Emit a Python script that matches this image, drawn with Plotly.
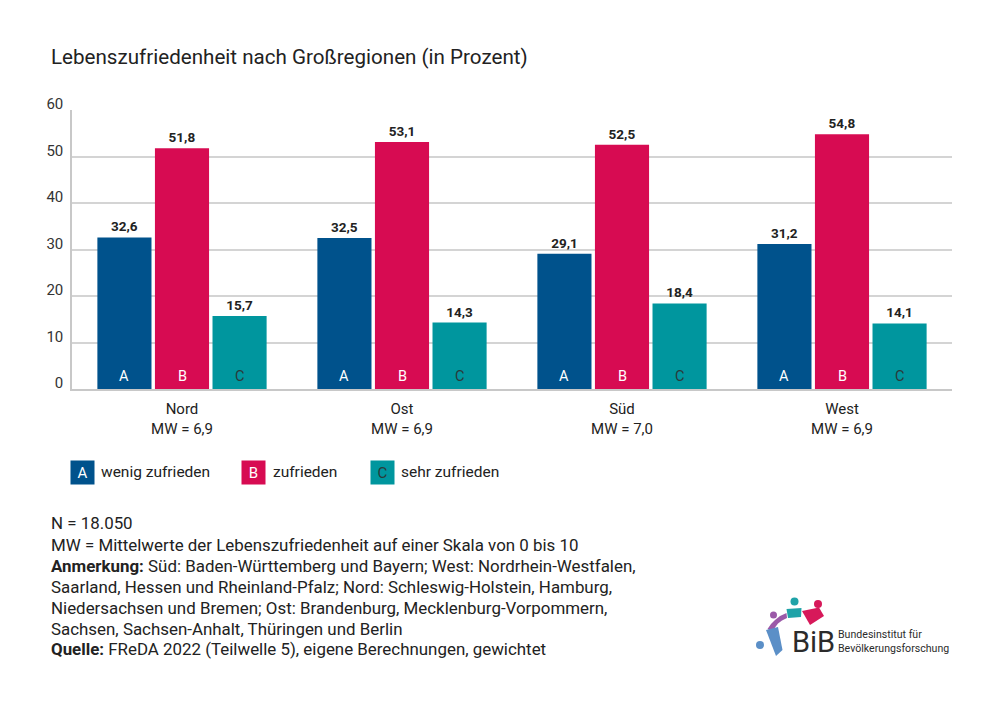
import plotly.graph_objects as go

regions = ["Nord", "Ost", "Süd", "West"]
mw = ["6,9", "6,9", "7,0", "6,9"]
series_names = ["wenig zufrieden", "zufrieden", "sehr zufrieden"]
series_letters = ["A", "B", "C"]
wenig = [32.6, 32.5, 29.1, 31.2]
zufrieden = [51.8, 53.1, 52.5, 54.8]
sehr = [15.7, 14.3, 18.4, 14.1]
yticks = [0, 10, 20, 30, 40, 50, 60]
notes = [
    "N = 18.050",
    "MW = Mittelwerte der Lebenszufriedenheit auf einer Skala von 0 bis 10",
    "<b>Anmerkung:</b> Süd: Baden-Württemberg und Bayern; West: Nordrhein-Westfalen,",
    "Saarland, Hessen und Rheinland-Pfalz; Nord: Schleswig-Holstein, Hamburg,",
    "Niedersachsen und Bremen; Ost: Brandenburg, Mecklenburg-Vorpommern,",
    "Sachsen, Sachsen-Anhalt, Thüringen und Berlin",
    "<b>Quelle:</b> FReDA 2022 (Teilwelle 5), eigene Berechnungen, gewichtet",
]

colors = ["#00528C", "#D70B52", "#00969E"]
letter_colors = ["white", "white", "#2a3a3a"]
FONT = "Roboto"
TXT = "#222222"

W, H = 1000, 703
L, R, T, B = 72, 48, 110, 314
PW = W - L - R
PH = H - T - B


def px(x):
    return (x - L) / PW


def py(y):
    return (H - B - y) / PH


cats = [f"{r}<br>MW = {m}" for r, m in zip(regions, mw)]
values = [wenig, zufrieden, sehr]

fig = go.Figure()
for name, vals, col in zip(series_names, values, colors):
    fig.add_trace(go.Bar(
        x=cats, y=vals, name=name, marker=dict(color=col, line=dict(width=0)),
        text=[f"<b>{v:.1f}</b>".replace(".", ",") for v in vals],
        textposition="outside", cliponaxis=False, constraintext="none",
        textfont=dict(family=FONT, size=13.5, color=TXT),
        hoverinfo="skip",
    ))

annotations = []
slot = PW / 4 * (1 - 0.215) / 3
for i, (letter, lc) in enumerate(zip(series_letters, letter_colors)):
    for c in cats:
        annotations.append(dict(
            x=c, y=0, xref="x", yref="y", text=letter, showarrow=False,
            xshift=(i - 1) * slot, yanchor="bottom", yshift=2,
            font=dict(family=FONT, size=14.5, color=lc),
        ))

# Legend
leg_sq = [82, 253, 382]
leg_tx = [99, 271, 399]
for letter, name, col, lc, sx, tx in zip(series_letters, series_names, colors, letter_colors, leg_sq, leg_tx):
    annotations.append(dict(
        x=px(sx), y=py(472), xref="paper", yref="paper", text=letter, showarrow=False,
        bgcolor=col, width=23, height=23, xanchor="center", yanchor="middle",
        font=dict(family=FONT, size=15, color=lc), borderpad=0,
    ))
    annotations.append(dict(
        x=px(tx), y=py(472), xref="paper", yref="paper", text=name, showarrow=False,
        xanchor="left", yanchor="middle", font=dict(family=FONT, size=15.5, color=TXT),
    ))

# Title
annotations.append(dict(
    x=px(49), y=py(57), xref="paper", yref="paper", showarrow=False,
    text="Lebenszufriedenheit nach Großregionen (in Prozent)",
    xanchor="left", yanchor="middle", font=dict(family=FONT, size=20.6, color=TXT),
))

# Footnotes
note_y = [523, 545, 566, 587, 608, 629, 649]
for line, ly in zip(notes, note_y):
    annotations.append(dict(
        x=px(49), y=py(ly), xref="paper", yref="paper", showarrow=False, text=line,
        xanchor="left", yanchor="middle", font=dict(family=FONT, size=16.9, color=TXT),
    ))

# Logo text
annotations.append(dict(
    x=px(790), y=py(642), xref="paper", yref="paper", showarrow=False, text="BiB",
    xanchor="left", yanchor="middle", font=dict(family=FONT, size=29, color="#2b2b2b"),
))
annotations.append(dict(
    x=px(836), y=py(641.5), xref="paper", yref="paper", showarrow=False,
    text="Bundesinstitut für<br>Bevölkerungsforschung", align="left",
    xanchor="left", yanchor="middle", font=dict(family=FONT, size=10.6, color="#2b2b2b"),
))

shapes = []


def circle(cx, cy, r, col):
    shapes.append(dict(type="circle", xref="paper", yref="paper",
                       x0=px(cx - r), x1=px(cx + r), y0=py(cy + r), y1=py(cy - r),
                       fillcolor=col, line=dict(width=0)))


def poly(pts, col):
    path = "M " + " L ".join(f"{px(x)},{py(y)}" for x, y in pts) + " Z"
    shapes.append(dict(type="path", xref="paper", yref="paper", path=path,
                       fillcolor=col, line=dict(width=0)))


circle(794.5, 601.5, 4, "#1fa3a8")
circle(818, 604, 4, "#d7195a")
circle(773.5, 615, 3.5, "#9b59a8")
circle(760, 645, 4, "#5b8fc7")
poly([(786.5, 609), (801.5, 608), (801, 617), (788, 618)], "#1fa3a8")
poly([(802, 611), (819, 607.5), (824, 616), (810, 625)], "#d7195a")
poly([(767.5, 629), (771, 624), (775, 620), (780, 616), (786.5, 613), (787, 618), (782, 620.5), (778, 623.5), (775, 627.5), (773, 632)], "#9b59a8")
poly([(766, 630), (778, 627), (782.5, 650), (776, 656)], "#5b8fc7")

fig.update_layout(
    width=W, height=H,
    margin=dict(l=L, r=R, t=T, b=B),
    paper_bgcolor="white", plot_bgcolor="white",
    barmode="group", bargap=0.215, bargroupgap=0.06,
    showlegend=False,
    font=dict(family=FONT, color=TXT),
    annotations=annotations, shapes=shapes,
    xaxis=dict(
        showgrid=False, showline=True, linecolor="#c8c8c8", linewidth=2,
        ticks="", tickfont=dict(family=FONT, size=15, color=TXT), ticklabelstandoff=5,
    ),
    yaxis=dict(
        range=[0, 60], tickvals=yticks, showgrid=True, gridcolor="#d4d4d4", gridwidth=1.5,
        showline=True, linecolor="#c8c8c8", linewidth=1.5, zeroline=False,
        ticks="", tickfont=dict(family=FONT, size=15, color="#333333"), ticklabelstandoff=4,
        ticklabelshift=-6,
    ),
)

fig.write_html("out.html", config={"displayModeBar": False},
               post_script="document.body.style.margin='0';")
